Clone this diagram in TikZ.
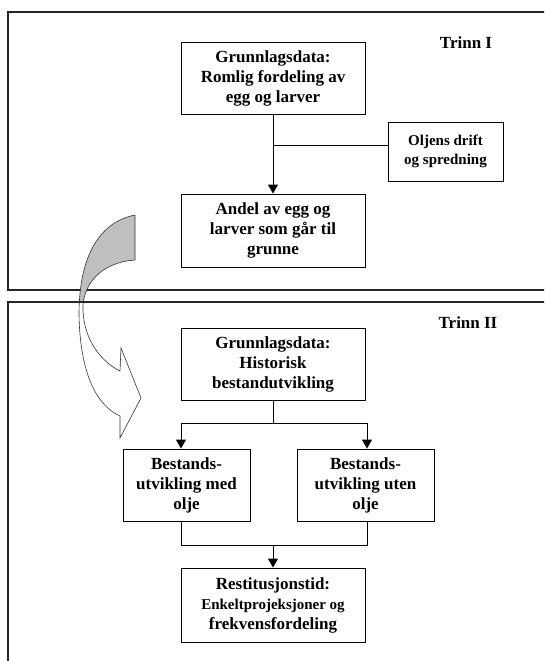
\documentclass[tikz,border=0pt]{standalone}
\usepackage{fontspec}
\setmainfont{Liberation Serif}
\usetikzlibrary{arrows.meta}
\begin{document}
\begin{tikzpicture}[x=1pt,y=-1pt,
  box/.style={draw,line width=0.9pt,fill=white,align=center,inner sep=2pt,
    font=\bfseries\fontsize{17}{20}\selectfont},
  smallbox/.style={box,font=\bfseries\fontsize{15}{19}\selectfont},
  frame/.style={draw=black!85,line width=1.2pt,fill=white},
  conn/.style={line width=0.9pt},
  arr/.style={conn,-{Triangle[width=10pt,length=9pt]}},
  lab/.style={font=\bfseries\fontsize{17}{20}\selectfont},
  bigarrow/.style={draw=black!80,line width=0.6pt}]
\useasboundingbox (0,0) rectangle (544,661);
\clip (0,0) rectangle (544,661);
\fill[white] (0,0) rectangle (544,661);
% top frame
\path[frame] (8,12) rectangle (560,290);
% curved block arrow (gray part)
\def\arrowpath{(135,215) .. controls (100,222) and (79,255) .. (79,315)
  .. controls (80,370) and (95,405) .. (120,416)
  -- (120,438) -- (141,398) -- (121,348) -- (120,371)
  .. controls (98,360) and (82,335) .. (83,305)
  .. controls (85,280) and (105,262) .. (135,260) -- cycle}
\path[fill=black!25,bigarrow] \arrowpath;
% bottom frame
\path[frame] (8,302) rectangle (560,680);
\begin{scope}
  \clip (9,303) rectangle (544,661);
  \path[bigarrow] \arrowpath;
\end{scope}
% labels
\node[lab] (t1) at (466,43) {Trinn I};
\node[lab] (t2) at (468,323) {Trinn II};
% step I
\node[box,minimum width=184pt,minimum height=72pt] (b1) at (273,78)
  {Grunnlagsdata:\\Romlig fordeling av\\egg og larver};
\node[smallbox,minimum width=115pt,minimum height=59pt] (ol) at (445.5,151.5)
  {Oljens drift\\og spredning};
\node[box,minimum width=184pt,minimum height=73pt] (b2) at (273,230.5)
  {Andel av egg og\\larver som går til\\grunne};
\coordinate (j1) at (273,145);
\draw[arr] (b1.south) -- (b2.north);
\draw[conn] (j1) -- (ol.west |- j1);
% step II
\node[box,minimum width=184pt,minimum height=72pt] (b3) at (273,364)
  {Grunnlagsdata:\\Historisk\\bestandutvikling};
\node[box,minimum width=127pt,minimum height=72pt] (b4) at (186.5,485)
  {Bestands-\\utvikling med\\olje};
\node[box,minimum width=137pt,minimum height=72pt] (b5) at (365.5,485)
  {Bestands-\\utvikling uten\\olje};
\node[box,minimum width=184pt,minimum height=74pt] (b6) at (273,605)
  {Restitusjonstid:\\{\fontsize{15}{18}\selectfont Enkeltprojeksjoner og}\\frekvensfordeling};
\coordinate (s1) at (181,423);
\coordinate (s2) at (367,423);
\coordinate (m1) at (181,545);
\coordinate (m2) at (367,545);
\draw[conn] (b3.south) -- (b3.south |- s1);
\draw[conn] (s1) -- (s2);
\draw[arr] (s1) -- (s1 |- b4.north);
\draw[arr] (s2) -- (s2 |- b5.north);
\draw[conn] (m1 |- b4.south) -- (m1) -- (m2) -- (m2 |- b5.south);
\draw[arr] (b6.north |- m1) -- (b6.north);
\end{tikzpicture}
\end{document}
